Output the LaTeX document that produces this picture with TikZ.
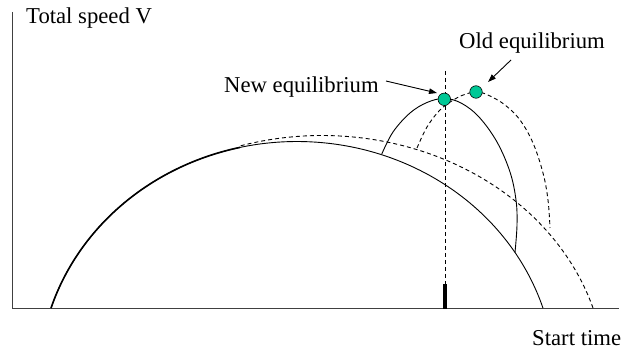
\documentclass[tikz,border=0pt]{standalone}
\usepackage{fontspec}
\setmainfont{Liberation Serif}
\usetikzlibrary{arrows.meta}
\definecolor{eqgreen}{RGB}{0,200,150}
\begin{document}
\begin{tikzpicture}[x=1pt,y=-1pt,
  curve/.style={line width=0.9pt},
  dashcurve/.style={line width=0.9pt, dash pattern=on 4pt off 3pt},
  axis/.style={line width=1.2pt, draw=black!75},
  lbl/.style={inner sep=0pt, anchor=base west, font=\fontsize{22.7}{27}\selectfont},
  eqdot/.style={circle, draw=black, line width=0.6pt, fill=eqgreen, minimum size=12.5pt, inner sep=0pt},
  pointer/.style={line width=0.9pt, -{Triangle[length=8pt,width=5.5pt]}}]
\useasboundingbox (0,0) rectangle (628,352);
% axes
\coordinate (ytop) at (12.5,12);
\coordinate (origin) at (12.5,308.7);
\coordinate (xend) at (619,308.7);
\draw[axis] (ytop) -- (origin) -- (xend);
% labels
\node[lbl] (ylab) at (26,24) {Total speed V};
\node[lbl] (xlab) at (532,345.5) {Start time};
\node[lbl] (newlab) at (224,92.7) {New equilibrium};
\node[lbl] (oldlab) at (459,48.5) {Old equilibrium};
% big solid curve (new)
\draw[curve] plot[domain=17.57:162.43, samples=120] ({297+258*cos(\x)},{380-238.5*sin(\x)});
% overlapping part (thick)
\draw[line width=1.6pt] plot[domain=102.76:162.43, samples=60] ({297+258*cos(\x)},{380-238.5*sin(\x)});
% big dashed curve (old)
\draw[dashcurve] plot[domain=17.13:106.8, samples=120] ({322+283.6*cos(\x)},{380-244.5*sin(\x)});
% inner solid curve
\draw[curve] plot[smooth, tension=0.6] coordinates {(381.7,154.2) (393,132) (410,113) (427,102.5) (444,98.5) (461,103) (479,117) (497,142) (510,172) (516,200) (517,225) (515,252.4)};
% inner dashed curve
\draw[dashcurve] plot[smooth, tension=0.6] coordinates {(417,148) (427,127) (440,110) (455,99) (466,94) (478,92) (490,96) (505,105) (520,120) (533,143) (543,173) (548,200) (550,228)};
% vertical dashed line and tick
\coordinate (vtop) at (445,71);
\coordinate (vmid) at (445,284);
\coordinate (vbot) at (445,308.7);
\draw[line width=0.9pt, dash pattern=on 4pt off 3pt] (vtop) -- (vmid);
\draw[line width=4pt] (vmid) -- (vbot);
% equilibrium dots
\node[eqdot] (newdot) at (444.3,99.3) {};
\node[eqdot] (olddot) at (476,92) {};
% pointers
\coordinate (newfrom) at (386,81);
\coordinate (newto) at (437,93);
\coordinate (oldfrom) at (511,60);
\coordinate (oldto) at (488,82);
\draw[pointer] (newfrom) -- (newto);
\draw[pointer] (oldfrom) -- (oldto);
\end{tikzpicture}
\end{document}
